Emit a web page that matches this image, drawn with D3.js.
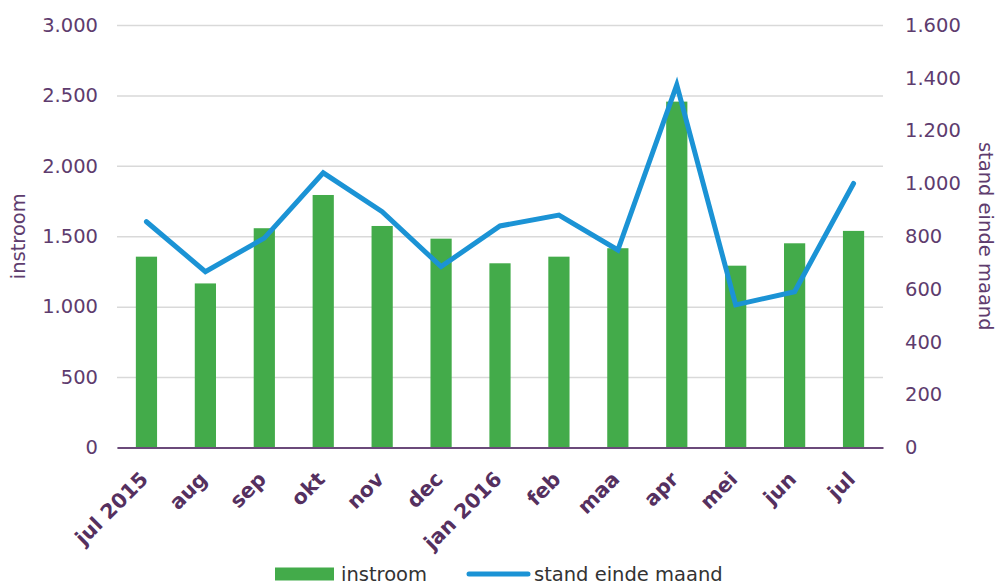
<!DOCTYPE html>
<html>
<head>
<meta charset="utf-8">
<script src="https://cdn.jsdelivr.net/npm/d3@7"></script>
<style>
  body { margin: 0; background: #fff; }
  svg { display: block; font-family: "DejaVu Sans", Verdana, sans-serif; }
</style>
</head>
<body>
<div id="chart"></div>
<script>
const months = ["jul 2015", "aug", "sep", "okt", "nov", "dec", "jan 2016", "feb", "maa", "apr", "mei", "jun", "jul"];
const instroom = [1355, 1165, 1557, 1793, 1573, 1483, 1308, 1355, 1415, 2456, 1291, 1450, 1538];
const standEindeMaand = [855, 666, 793, 1040, 893, 685, 839, 880, 748, 1373, 540, 590, 1000];
const leftTicks = [0, 500, 1000, 1500, 2000, 2500, 3000];
const rightTicks = [0, 200, 400, 600, 800, 1000, 1200, 1400, 1600];

const width = 997, height = 585;
const margin = {top: 25, right: 114, bottom: 137.5, left: 117};
const innerWidth = width - margin.left - margin.right;
const innerHeight = height - margin.top - margin.bottom;

const purple = "#5e3c6e";
const green = "#43ab4a";
const blue = "#1b93d5";
const fmt = (v) => d3.format(",")(v).replace(/,/g, ".");

const x = d3.scaleBand().domain(months).range([0, innerWidth]).paddingInner(0.64).paddingOuter(0.32);
const yLeft = d3.scaleLinear().domain([0, 3000]).range([innerHeight, 0]);
const yRight = d3.scaleLinear().domain([0, 1600]).range([innerHeight, 0]);

const svg = d3.select("#chart").append("svg")
  .attr("width", width)
  .attr("height", height)
  .attr("viewBox", [0, 0, width, height]);

const g = svg.append("g").attr("transform", `translate(${margin.left},${margin.top})`);

// gridlines + left axis
g.append("g")
  .call(d3.axisLeft(yLeft).tickValues(leftTicks).tickSize(-innerWidth).tickPadding(19).tickFormat(fmt))
  .attr("font-size", 19.5)
  .attr("font-family", "DejaVu Sans")
  .call((axis) => axis.select(".domain").remove())
  .call((axis) => axis.selectAll(".tick line").attr("stroke", "#d9d9d9").attr("stroke-width", 1.5))
  .call((axis) => axis.selectAll(".tick text").attr("fill", purple));

// right axis
g.append("g")
  .attr("transform", `translate(${innerWidth},0)`)
  .call(d3.axisRight(yRight).tickValues(rightTicks).tickSize(0).tickPadding(22).tickFormat(fmt))
  .attr("font-size", 19.5)
  .attr("font-family", "DejaVu Sans")
  .call((axis) => axis.select(".domain").remove())
  .call((axis) => axis.selectAll(".tick text").attr("fill", purple));

// bars
g.append("g")
  .selectAll("rect")
  .data(months)
  .join("rect")
  .attr("x", (d) => x(d))
  .attr("y", (d, i) => yLeft(instroom[i]))
  .attr("width", x.bandwidth())
  .attr("height", (d, i) => innerHeight - yLeft(instroom[i]))
  .attr("fill", green);

// baseline / x axis
g.append("g")
  .attr("transform", `translate(0,${innerHeight})`)
  .call(d3.axisBottom(x).tickSize(0).tickPadding(0))
  .attr("font-size", 20.5)
  .attr("font-family", "DejaVu Sans")
  .attr("font-weight", "bold")
  .call((axis) => axis.select(".domain").attr("stroke", "#6b4a7a").attr("stroke-width", 2))
  .call((axis) => axis.selectAll(".tick text")
    .attr("fill", "#55305f")
    .attr("text-anchor", "end")
    .attr("dy", null)
    .attr("transform", "translate(3,33) rotate(-45)"));

// line
const line = d3.line()
  .x((d, i) => x(months[i]) + x.bandwidth() / 2)
  .y((d) => yRight(d));

g.append("path")
  .datum(standEindeMaand)
  .attr("fill", "none")
  .attr("stroke", blue)
  .attr("stroke-width", 5)
  .attr("stroke-linejoin", "miter")
  .attr("stroke-linecap", "round")
  .attr("d", line);

// axis titles
svg.append("text")
  .attr("transform", `translate(25,${margin.top + innerHeight / 2}) rotate(-90)`)
  .attr("text-anchor", "middle")
  .attr("fill", purple)
  .attr("font-size", 19.5)
  .text("instroom");

svg.append("text")
  .attr("transform", `translate(979,${margin.top + innerHeight / 2}) rotate(90)`)
  .attr("text-anchor", "middle")
  .attr("fill", purple)
  .attr("font-size", 19.5)
  .text("stand einde maand");

// legend
const legend = svg.append("g").attr("transform", "translate(0,574)");
legend.append("rect").attr("x", 275).attr("y", -6.5).attr("width", 59).attr("height", 13).attr("fill", green);
legend.append("text").attr("x", 341).attr("y", 7).attr("fill", "#333").attr("font-size", 19.5).text("instroom");
legend.append("line").attr("x1", 469).attr("x2", 528).attr("y1", 0).attr("y2", 0)
  .attr("stroke", blue).attr("stroke-width", 5).attr("stroke-linecap", "round");
legend.append("text").attr("x", 534).attr("y", 7).attr("fill", "#333").attr("font-size", 19.5).text("stand einde maand");
</script>
</body>
</html>
